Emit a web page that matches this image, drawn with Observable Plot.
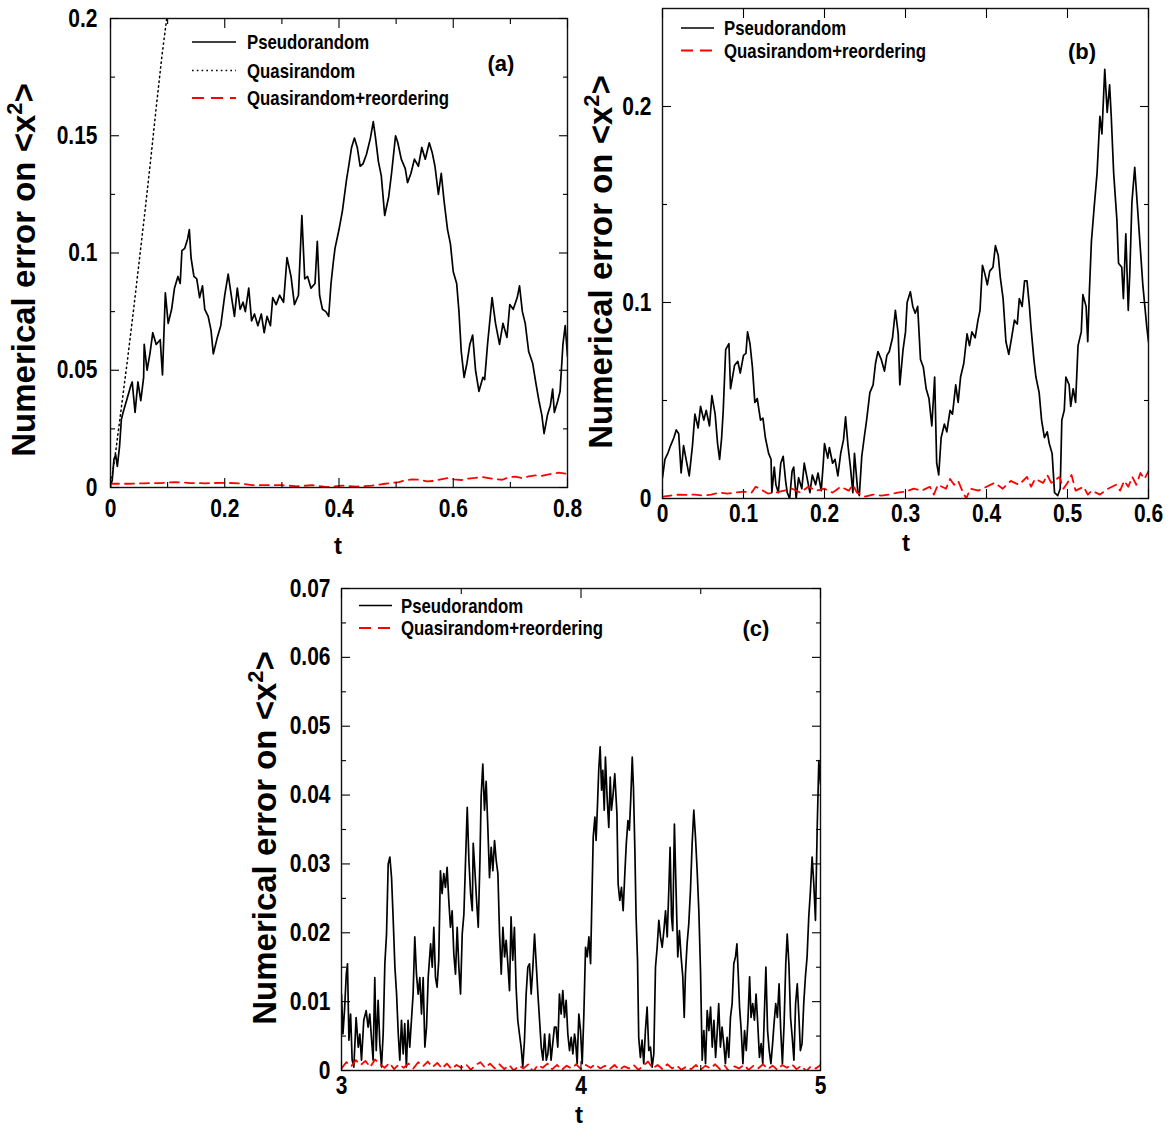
<!DOCTYPE html>
<html><head><meta charset="utf-8">
<script src="https://cdn.jsdelivr.net/npm/d3@7"></script>
<script src="https://cdn.jsdelivr.net/npm/@observablehq/plot@0.6"></script>
<style>
body{margin:0;background:#fff;}
#wrap{position:relative;width:1169px;height:1129px;background:#fff;}
.panel{position:absolute;}
</style></head><body><div id="wrap"></div>
<script>
// ---------------- DATA ----------------
const seriesNames = ["Pseudorandom", "Quasirandom", "Quasirandom+reordering"];

// Panel (a)
const aPseudo = [[0,0.001],[0.003,0.003],[0.006,0.012],[0.009,0.014],[0.012,0.009],[0.016,0.018],[0.019,0.029],[0.022,0.032],[0.028,0.037],[0.035,0.043],[0.038,0.045],[0.043,0.032],[0.048,0.045],[0.053,0.037],[0.058,0.047],[0.059,0.061],[0.064,0.050],[0.069,0.057],[0.074,0.066],[0.080,0.061],[0.087,0.063],[0.091,0.048],[0.096,0.083],[0.101,0.070],[0.107,0.076],[0.112,0.085],[0.118,0.090],[0.122,0.087],[0.125,0.101],[0.130,0.102],[0.135,0.106],[0.138,0.110],[0.141,0.098],[0.146,0.090],[0.151,0.089],[0.156,0.081],[0.161,0.086],[0.165,0.076],[0.171,0.073],[0.176,0.067],[0.180,0.057],[0.187,0.064],[0.193,0.069],[0.200,0.082],[0.206,0.091],[0.212,0.081],[0.217,0.073],[0.222,0.085],[0.227,0.076],[0.232,0.079],[0.236,0.075],[0.242,0.085],[0.247,0.071],[0.252,0.074],[0.258,0.069],[0.264,0.074],[0.269,0.066],[0.274,0.073],[0.280,0.069],[0.284,0.081],[0.290,0.078],[0.296,0.082],[0.303,0.079],[0.309,0.098],[0.316,0.090],[0.322,0.078],[0.329,0.082],[0.335,0.116],[0.340,0.089],[0.345,0.090],[0.351,0.085],[0.358,0.087],[0.362,0.105],[0.366,0.082],[0.371,0.076],[0.377,0.075],[0.382,0.073],[0.386,0.087],[0.390,0.096],[0.393,0.102],[0.400,0.110],[0.406,0.118],[0.413,0.131],[0.417,0.137],[0.422,0.145],[0.427,0.149],[0.432,0.145],[0.437,0.137],[0.442,0.138],[0.448,0.142],[0.455,0.149],[0.460,0.156],[0.464,0.149],[0.469,0.139],[0.474,0.133],[0.480,0.116],[0.487,0.124],[0.492,0.134],[0.499,0.150],[0.503,0.147],[0.509,0.140],[0.516,0.136],[0.520,0.130],[0.526,0.134],[0.532,0.140],[0.539,0.137],[0.545,0.145],[0.551,0.140],[0.558,0.147],[0.563,0.143],[0.568,0.137],[0.574,0.125],[0.579,0.134],[0.584,0.122],[0.590,0.110],[0.595,0.104],[0.600,0.092],[0.606,0.087],[0.610,0.075],[0.614,0.058],[0.619,0.047],[0.624,0.053],[0.629,0.061],[0.634,0.065],[0.639,0.050],[0.645,0.041],[0.652,0.047],[0.655,0.046],[0.660,0.061],[0.668,0.081],[0.674,0.070],[0.681,0.061],[0.687,0.070],[0.694,0.064],[0.699,0.078],[0.705,0.076],[0.712,0.081],[0.716,0.086],[0.721,0.075],[0.726,0.070],[0.732,0.058],[0.739,0.053],[0.745,0.044],[0.750,0.037],[0.755,0.031],[0.759,0.023],[0.765,0.031],[0.770,0.035],[0.774,0.042],[0.777,0.032],[0.783,0.037],[0.787,0.041],[0.792,0.061],[0.796,0.069],[0.800,0.056]];
const aQuasi = [[0,0],[0.01,0.017],[0.02,0.036],[0.03,0.055],[0.04,0.075],[0.05,0.096],[0.06,0.117],[0.07,0.139],[0.08,0.162],[0.09,0.184],[0.1,0.203]];
const aReorder = [[0,0.001],[0.003,0.0016],[0.032,0.0016],[0.061,0.0018],[0.087,0.0019],[0.114,0.0023],[0.140,0.0019],[0.166,0.0018],[0.196,0.0020],[0.225,0.0018],[0.248,0.0010],[0.274,0.0010],[0.300,0.0010],[0.327,0.0005],[0.353,0.0010],[0.379,0.0002],[0.405,0.0008],[0.432,0.0004],[0.458,0.0008],[0.481,0.0016],[0.505,0.0023],[0.515,0.0030],[0.528,0.0035],[0.541,0.0033],[0.554,0.0026],[0.566,0.0028],[0.578,0.0035],[0.590,0.0040],[0.601,0.0035],[0.614,0.0032],[0.627,0.0038],[0.638,0.0041],[0.650,0.0045],[0.662,0.0040],[0.674,0.0035],[0.686,0.0033],[0.697,0.0044],[0.709,0.0046],[0.720,0.0040],[0.732,0.0047],[0.744,0.0052],[0.755,0.0050],[0.767,0.0056],[0.784,0.0063],[0.799,0.0058]];
const aXTicks = [0, 0.2, 0.4, 0.6, 0.8];
const aXMinor = [0.1, 0.3, 0.5, 0.7];
const aYTicks = [0, 0.05, 0.1, 0.15, 0.2];
const aYMinor = [0.025, 0.075, 0.125, 0.175];

// Panel (b)
const bPseudo = [[0,0.0106],[0.003,0.020],[0.0065,0.023],[0.010,0.027],[0.014,0.031],[0.017,0.035],[0.020,0.033],[0.023,0.013],[0.026,0.027],[0.030,0.018],[0.033,0.0115],[0.037,0.027],[0.040,0.043],[0.044,0.036],[0.047,0.047],[0.051,0.040],[0.054,0.045],[0.058,0.037],[0.061,0.0525],[0.065,0.043],[0.068,0.028],[0.0705,0.020],[0.073,0.031],[0.075,0.045],[0.078,0.076],[0.082,0.079],[0.084,0.056],[0.089,0.068],[0.093,0.070],[0.096,0.064],[0.100,0.073],[0.103,0.074],[0.105,0.085],[0.108,0.079],[0.111,0.067],[0.114,0.049],[0.117,0.051],[0.121,0.040],[0.124,0.041],[0.127,0.031],[0.131,0.023],[0.134,0.020],[0.135,0.003],[0.138,0.016],[0.140,0.007],[0.143,0.003],[0.146,0.018],[0.149,0.0215],[0.152,0.009],[0.154,0.003],[0.157,0.0],[0.160,0.014],[0.162,0.016],[0.165,0.0],[0.168,0.0106],[0.172,0.005],[0.175,0.018],[0.178,0.0115],[0.182,0.003],[0.185,0.012],[0.189,0.007],[0.192,0.013],[0.196,0.004],[0.1985,0.018],[0.200,0.028],[0.204,0.0206],[0.206,0.026],[0.210,0.018],[0.213,0.020],[0.2165,0.0115],[0.220,0.023],[0.2235,0.030],[0.226,0.0416],[0.229,0.027],[0.232,0.016],[0.235,0.003],[0.237,0.023],[0.241,0.004],[0.243,0.0015],[0.246,0.0215],[0.249,0.031],[0.252,0.040],[0.256,0.054],[0.260,0.058],[0.263,0.069],[0.266,0.075],[0.270,0.071],[0.274,0.065],[0.277,0.073],[0.280,0.075],[0.284,0.082],[0.2875,0.096],[0.291,0.084],[0.293,0.058],[0.297,0.076],[0.300,0.085],[0.302,0.100],[0.306,0.1055],[0.309,0.098],[0.312,0.0945],[0.315,0.098],[0.3185,0.071],[0.322,0.067],[0.3255,0.056],[0.329,0.051],[0.3325,0.037],[0.336,0.062],[0.3385,0.018],[0.341,0.012],[0.344,0.031],[0.348,0.038],[0.351,0.034],[0.355,0.045],[0.358,0.043],[0.362,0.058],[0.365,0.049],[0.368,0.062],[0.372,0.069],[0.376,0.084],[0.379,0.078],[0.382,0.085],[0.386,0.082],[0.3895,0.091],[0.392,0.096],[0.395,0.119],[0.398,0.1146],[0.401,0.109],[0.404,0.116],[0.408,0.118],[0.411,0.129],[0.4145,0.124],[0.417,0.113],[0.4205,0.102],[0.424,0.080],[0.4275,0.0735],[0.431,0.082],[0.4345,0.091],[0.438,0.089],[0.4405,0.102],[0.444,0.098],[0.447,0.111],[0.450,0.111],[0.453,0.098],[0.455,0.087],[0.4585,0.071],[0.461,0.062],[0.465,0.054],[0.468,0.040],[0.4715,0.031],[0.475,0.034],[0.4775,0.028],[0.481,0.023],[0.484,0.003],[0.488,0.0015],[0.491,0.005],[0.493,0.040],[0.496,0.045],[0.498,0.062],[0.502,0.058],[0.504,0.047],[0.507,0.056],[0.510,0.049],[0.513,0.078],[0.517,0.085],[0.519,0.104],[0.523,0.098],[0.525,0.080],[0.527,0.1055],[0.5295,0.131],[0.533,0.149],[0.5365,0.166],[0.540,0.195],[0.5425,0.186],[0.546,0.219],[0.549,0.197],[0.552,0.211],[0.554,0.195],[0.557,0.166],[0.561,0.142],[0.563,0.120],[0.567,0.118],[0.569,0.102],[0.572,0.135],[0.575,0.096],[0.577,0.116],[0.5795,0.151],[0.583,0.169],[0.586,0.151],[0.590,0.127],[0.593,0.109],[0.5955,0.098],[0.598,0.087],[0.600,0.080]];
const bReorder = [[0,0.001],[0.01,0.0015],[0.02,0.002],[0.03,0.0018],[0.04,0.002],[0.05,0.0015],[0.06,0.002],[0.07,0.003],[0.08,0.0025],[0.09,0.003],[0.10,0.0035],[0.11,0.003],[0.115,0.006],[0.12,0.005],[0.13,0.0025],[0.14,0.003],[0.15,0.004],[0.16,0.005],[0.17,0.003],[0.18,0.006],[0.19,0.004],[0.20,0.005],[0.21,0.003],[0.22,0.006],[0.23,0.004],[0.235,0.007],[0.24,0.003],[0.25,0.001],[0.26,0.002],[0.27,0.0015],[0.28,0.002],[0.29,0.003],[0.30,0.0035],[0.31,0.005],[0.32,0.004],[0.33,0.006],[0.335,0.002],[0.34,0.007],[0.35,0.005],[0.355,0.010],[0.36,0.007],[0.365,0.009],[0.37,0.004],[0.375,0.000],[0.38,0.005],[0.39,0.004],[0.40,0.006],[0.41,0.008],[0.42,0.005],[0.43,0.009],[0.44,0.007],[0.45,0.011],[0.455,0.006],[0.46,0.010],[0.47,0.008],[0.475,0.012],[0.48,0.008],[0.49,0.011],[0.495,0.005],[0.50,0.008],[0.505,0.012],[0.51,0.004],[0.52,0.006],[0.525,0.002],[0.53,0.004],[0.54,0.002],[0.55,0.005],[0.56,0.007],[0.565,0.004],[0.57,0.009],[0.575,0.006],[0.58,0.011],[0.585,0.007],[0.59,0.013],[0.595,0.010],[0.60,0.014]];
const bXTicks = [0, 0.1, 0.2, 0.3, 0.4, 0.5, 0.6];
const bYTicks = [0, 0.1, 0.2];
const bYMinor = [0.05, 0.15];

// Panel (c)
const cPseudo = [[3.000,0.0111],[3.006,0.0053],[3.0125,0.0087],[3.020,0.0140],[3.025,0.0155],[3.031,0.0044],[3.038,0.0082],[3.0445,0.0015],[3.0515,0.0005],[3.061,0.0077],[3.070,0.0034],[3.0765,0.0053],[3.0835,0.0015],[3.093,0.0073],[3.103,0.0087],[3.111,0.0063],[3.118,0.0082],[3.125,0.0048],[3.132,0.0015],[3.139,0.0135],[3.145,0.0029],[3.153,0.0102],[3.160,0.0039],[3.167,0.0005],[3.174,0.0053],[3.181,0.0155],[3.188,0.0198],[3.195,0.0300],[3.202,0.0310],[3.209,0.0280],[3.216,0.0218],[3.223,0.0150],[3.230,0.0111],[3.237,0.0053],[3.2435,0.0015],[3.2505,0.0073],[3.2575,0.0024],[3.264,0.0068],[3.271,0.0005],[3.278,0.0073],[3.285,0.0034],[3.292,0.0073],[3.299,0.0111],[3.306,0.0194],[3.313,0.0140],[3.320,0.0111],[3.327,0.0135],[3.334,0.0082],[3.341,0.0135],[3.348,0.0034],[3.355,0.0063],[3.362,0.0135],[3.372,0.0184],[3.379,0.0150],[3.3855,0.0208],[3.3925,0.0135],[3.399,0.0121],[3.406,0.0160],[3.413,0.0290],[3.420,0.0257],[3.427,0.0286],[3.434,0.0266],[3.441,0.0295],[3.448,0.0247],[3.455,0.0208],[3.462,0.0232],[3.469,0.0169],[3.476,0.0140],[3.483,0.0208],[3.490,0.0150],[3.497,0.0111],[3.504,0.0198],[3.511,0.0227],[3.518,0.0305],[3.525,0.0382],[3.532,0.0305],[3.539,0.0257],[3.546,0.0232],[3.550,0.0330],[3.557,0.0290],[3.564,0.0247],[3.571,0.0208],[3.578,0.0305],[3.583,0.0397],[3.590,0.0445],[3.597,0.0378],[3.604,0.0420],[3.611,0.0353],[3.618,0.0280],[3.625,0.0324],[3.632,0.0290],[3.639,0.0334],[3.646,0.0305],[3.653,0.0286],[3.660,0.0198],[3.667,0.0140],[3.674,0.0208],[3.681,0.0165],[3.6875,0.0189],[3.6945,0.0155],[3.7015,0.0116],[3.708,0.0223],[3.715,0.0160],[3.722,0.0208],[3.729,0.0121],[3.736,0.0073],[3.743,0.0053],[3.750,0.0034],[3.757,0.0005],[3.764,0.0044],[3.771,0.0111],[3.778,0.0150],[3.785,0.0155],[3.792,0.0111],[3.799,0.0150],[3.806,0.0198],[3.813,0.0155],[3.820,0.0111],[3.827,0.0073],[3.834,0.0034],[3.841,0.0015],[3.848,0.0053],[3.855,0.0015],[3.8615,0.0024],[3.8685,0.0053],[3.875,0.0015],[3.882,0.0039],[3.889,0.0063],[3.896,0.0063],[3.903,0.0034],[3.910,0.0111],[3.917,0.0082],[3.924,0.0116],[3.931,0.0077],[3.938,0.0102],[3.945,0.0053],[3.952,0.0029],[3.959,0.0048],[3.966,0.0024],[3.973,0.0053],[3.977,0.0044],[3.984,0.0010],[3.991,0.0082],[3.998,0.0058],[4.005,0.0010],[4.012,0.0082],[4.019,0.0179],[4.026,0.0165],[4.033,0.0194],[4.040,0.0155],[4.044,0.0223],[4.051,0.0339],[4.058,0.0368],[4.063,0.0334],[4.069,0.0387],[4.074,0.0436],[4.080,0.0470],[4.086,0.0407],[4.091,0.0436],[4.097,0.0378],[4.102,0.0455],[4.109,0.0397],[4.116,0.0353],[4.122,0.0426],[4.127,0.0378],[4.133,0.0397],[4.141,0.0431],[4.150,0.0373],[4.155,0.0271],[4.162,0.0247],[4.169,0.0266],[4.176,0.0232],[4.183,0.0286],[4.189,0.0329],[4.196,0.0363],[4.202,0.0349],[4.208,0.0397],[4.214,0.0455],[4.219,0.0411],[4.225,0.0319],[4.230,0.0223],[4.236,0.0160],[4.241,0.0048],[4.248,0.0019],[4.255,0.0044],[4.262,0.0010],[4.269,0.0058],[4.276,0.0092],[4.283,0.0029],[4.290,0.0034],[4.297,0.0005],[4.304,0.0024],[4.311,0.0150],[4.318,0.0179],[4.325,0.0218],[4.332,0.0194],[4.339,0.0179],[4.346,0.0203],[4.353,0.0232],[4.360,0.0194],[4.367,0.0266],[4.372,0.0324],[4.378,0.0223],[4.383,0.0203],[4.390,0.0358],[4.397,0.0261],[4.404,0.0165],[4.411,0.0203],[4.418,0.0165],[4.425,0.0136],[4.431,0.0077],[4.436,0.0140],[4.443,0.0184],[4.450,0.0213],[4.457,0.0261],[4.464,0.0329],[4.471,0.0378],[4.478,0.0339],[4.485,0.0290],[4.492,0.0232],[4.499,0.0145],[4.506,0.0015],[4.513,0.0058],[4.520,0.0010],[4.527,0.0087],[4.534,0.0058],[4.541,0.0092],[4.548,0.0034],[4.555,0.0073],[4.562,0.0019],[4.569,0.0058],[4.575,0.0097],[4.582,0.0034],[4.589,0.0063],[4.596,0.0039],[4.603,0.0010],[4.610,0.0048],[4.617,0.0019],[4.624,0.0077],[4.631,0.0097],[4.638,0.0155],[4.645,0.0165],[4.651,0.0184],[4.656,0.0145],[4.662,0.0092],[4.669,0.0058],[4.676,0.0010],[4.683,0.0058],[4.690,0.0029],[4.697,0.0073],[4.704,0.0136],[4.710,0.0077],[4.717,0.0097],[4.724,0.0073],[4.731,0.0111],[4.738,0.0068],[4.745,0.0019],[4.752,0.0039],[4.759,0.0010],[4.766,0.0087],[4.772,0.0150],[4.779,0.0058],[4.786,0.0029],[4.793,0.0010],[4.800,0.0039],[4.806,0.0068],[4.813,0.0097],[4.820,0.0077],[4.827,0.0126],[4.834,0.0058],[4.841,0.0010],[4.848,0.0068],[4.855,0.0155],[4.861,0.0198],[4.868,0.0155],[4.875,0.0077],[4.882,0.0048],[4.889,0.0015],[4.896,0.0097],[4.903,0.0126],[4.910,0.0077],[4.916,0.0029],[4.923,0.0039],[4.930,0.0097],[4.937,0.0136],[4.944,0.0165],[4.951,0.0223],[4.958,0.0261],[4.965,0.0310],[4.972,0.0271],[4.979,0.0218],[4.986,0.0349],[4.993,0.0450],[5.000,0.0416]];
const cReorder = [[3.00,0.0003],[3.02,0.0012],[3.04,0.0006],[3.06,0.0015],[3.08,0.0008],[3.10,0.0014],[3.12,0.0005],[3.14,0.0016],[3.16,0.0009],[3.18,0.0004],[3.20,0.0011],[3.22,0.0002],[3.24,0.0009],[3.26,0.0004],[3.28,0.0010],[3.30,0.0003],[3.32,0.0012],[3.34,0.0006],[3.36,0.0013],[3.38,0.0005],[3.40,0.0011],[3.42,0.0003],[3.44,0.0010],[3.46,0.0002],[3.48,0.0008],[3.50,0.0004],[3.52,0.0009],[3.54,0.0001],[3.56,0.0008],[3.58,0.0012],[3.60,0.0004],[3.62,0.0010],[3.64,0.0003],[3.66,0.0009],[3.68,0.0002],[3.70,0.0008],[3.72,0.0000],[3.74,0.0007],[3.76,0.0003],[3.78,0.0009],[3.80,-0.0002],[3.82,0.0008],[3.84,0.0004],[3.86,0.0010],[3.88,0.0002],[3.90,0.0008],[3.92,0.0001],[3.94,0.0007],[3.96,0.0003],[3.98,0.0009],[4.00,0.0002],[4.02,0.0008],[4.04,0.0004],[4.06,0.0009],[4.08,0.0003],[4.10,0.0007],[4.12,0.0002],[4.14,0.0008],[4.16,0.0001],[4.18,0.0006],[4.20,0.0003],[4.22,0.0008],[4.24,0.0001],[4.26,0.0007],[4.28,0.0013],[4.30,0.0003],[4.32,0.0008],[4.34,0.0002],[4.36,0.0009],[4.38,0.0003],[4.40,0.0007],[4.42,0.0001],[4.44,0.0006],[4.46,0.0002],[4.48,0.0008],[4.50,0.0001],[4.52,0.0007],[4.54,0.0003],[4.56,0.0009],[4.58,0.0002],[4.60,0.0007],[4.62,-0.0002],[4.64,0.0006],[4.66,0.0003],[4.68,0.0008],[4.70,0.0001],[4.72,0.0007],[4.74,0.0003],[4.76,0.0009],[4.78,0.0002],[4.80,0.0007],[4.82,0.0001],[4.84,0.0008],[4.86,0.0004],[4.88,0.0009],[4.90,0.0002],[4.92,0.0007],[4.94,-0.0001],[4.96,0.0006],[4.98,0.0003],[5.00,0.0008]];
const cXTicks = [3, 4, 5];
const cXMinor = [3.5, 4.5];
const cYTicks = [0, 0.01, 0.02, 0.03, 0.04, 0.05, 0.06, 0.07];
const cYMinor = [0.005, 0.015, 0.025, 0.035, 0.045, 0.055, 0.065];

// ---------------- STYLE ----------------
function hasFont(name){
  const c = document.createElement("canvas").getContext("2d");
  const s = "Pseudorandom 0.15 Quasirandom+reordering";
  c.font = "bold 40px monospace"; const w0 = c.measureText(s).width;
  c.font = `bold 40px "${name}", monospace`; const w1 = c.measureText(s).width;
  return Math.abs(w0 - w1) > 0.5;
}
const narrowOK = hasFont("Liberation Sans Narrow");
const NARROW = narrowOK ? '"Liberation Sans Narrow", "Liberation Sans", Arial, sans-serif' : '"Liberation Sans", Arial, sans-serif';
const WIDE = '"Liberation Sans", Arial, sans-serif';
const SQUEEZE = narrowOK ? 1 : 0.84;   // horizontal condensing when no narrow face exists
const TICK_FS = 25;
const LEG_FS = 20;
const RED = "#ff0000";
const DASH = "9,6";
const toRows = arr => arr.map(([t, v]) => ({t, v}));

const styles = {
  Pseudorandom: {stroke: "#000", strokeWidth: 1.7, dash: null, legDash: null},
  Quasirandom: {stroke: "#000", strokeWidth: 1.5, dash: "1.4,3.4", legDash: "1.6,3.2"},
  "Quasirandom+reordering": {stroke: RED, strokeWidth: 1.8, dash: DASH, legDash: "12,7"}
};

function panel(cfg){
  const marks = [];
  for (const s of cfg.series) {
    const st = styles[s.name];
    marks.push(Plot.line(toRows(s.data), {x: "t", y: "v", stroke: st.stroke, strokeWidth: st.strokeWidth, strokeDasharray: st.dash, clip: true}));
  }
  marks.push(Plot.frame({stroke: "#111", strokeWidth: 1.4}));
  const tk = (ticks, anchor, size) => {
    const o = {anchor, tickSize: size, fill: "none", label: null, strokeWidth: 1.1};
    if (anchor === "left") o.dx = size; if (anchor === "right") o.dx = -size;
    if (anchor === "bottom") o.dy = -size; if (anchor === "top") o.dy = size;
    return (anchor === "left" || anchor === "right") ? Plot.axisY(ticks, o) : Plot.axisX(ticks, o);
  };
  for (const a of ["left", "right"]) {
    marks.push(tk(cfg.yTicks, a, 9));
    if (cfg.yMinor) marks.push(tk(cfg.yMinor, a, 5));
  }
  for (const a of ["bottom", "top"]) {
    marks.push(tk(cfg.xTicks, a, 9));
    if (cfg.xMinor) marks.push(tk(cfg.xMinor, a, 5));
  }
  marks.push(Plot.axisY(cfg.yTicks, {anchor: "left", tickSize: 0, tickPadding: cfg.yPad, tickFormat: d => String(d), fontSize: TICK_FS, fontWeight: "bold", label: null}));
  marks.push(Plot.axisX(cfg.xTicks, {anchor: "bottom", tickSize: 0, tickPadding: cfg.xPad, tickFormat: d => String(d), fontSize: TICK_FS, fontWeight: "bold", label: null}));

  const svg = Plot.plot({
    width: cfg.width, height: cfg.height,
    marginLeft: cfg.m[0], marginRight: cfg.m[1], marginTop: cfg.m[2], marginBottom: cfg.m[3],
    x: {domain: cfg.xDomain}, y: {domain: cfg.yDomain},
    style: {fontFamily: NARROW, fontWeight: "bold", color: "#000", background: "transparent", overflow: "visible"},
    marks
  });
  const g = d3.select(svg);
  // condense tick labels horizontally (narrow face look)
  g.selectAll('g[aria-label$="tick label"] text').each(function(){
    const t = this.getAttribute("transform") || "";
    this.setAttribute("transform", `${t} scale(${SQUEEZE},1)`);
  });
  // y label
  const yl = g.append("text")
    .attr("transform", `translate(${cfg.yLabel[0]},${cfg.yLabel[1]}) rotate(-90)`)
    .attr("text-anchor", "middle")
    .style("font-family", WIDE).style("font-size", "33px").style("font-weight", "bold").attr("fill", "#000");
  yl.append("tspan").text("Numerical error on <x");
  yl.append("tspan").attr("dy", -13).style("font-size", "22px").text("2");
  yl.append("tspan").attr("dy", 13).text(">");
  // x label
  g.append("text").attr("x", cfg.xLabel[0]).attr("y", cfg.xLabel[1]).attr("text-anchor", "middle")
    .style("font-family", WIDE).style("font-size", "24px").style("font-weight", "bold").attr("fill", "#000").text("t");
  // legend
  cfg.series.forEach((s, i) => {
    const st = styles[s.name];
    const y = cfg.leg.ys[i];
    g.append("line").attr("x1", cfg.leg.x0).attr("x2", cfg.leg.x1).attr("y1", y).attr("y2", y)
      .attr("stroke", st.stroke).attr("stroke-width", st.strokeWidth).attr("stroke-dasharray", st.legDash);
    g.append("text").attr("transform", `translate(${cfg.leg.xt},${y}) scale(${SQUEEZE},1)`).attr("dy", "0.36em").attr("text-anchor", "start")
      .style("font-family", NARROW).style("font-size", LEG_FS + "px").style("font-weight", "bold").attr("fill", "#000").text(s.name);
  });
  // panel tag
  g.append("text").attr("x", cfg.tag[0]).attr("y", cfg.tag[1]).attr("dy", "0.36em").attr("text-anchor", "middle")
    .style("font-family", WIDE).style("font-size", "22px").style("font-weight", "bold").attr("fill", "#000").text(cfg.tagText);

  const div = document.createElement("div");
  div.className = "panel";
  div.style.left = cfg.left + "px"; div.style.top = cfg.top + "px";
  div.appendChild(svg);
  document.getElementById("wrap").appendChild(div);
}

panel({
  left: 0, top: 0, width: 580, height: 560, m: [110, 13, 18, 73],
  xDomain: [0, 0.8], yDomain: [0, 0.2],
  xTicks: aXTicks, xMinor: aXMinor, yTicks: aYTicks, yMinor: aYMinor,
  yPad: 13, xPad: 12,
  series: [{name: seriesNames[0], data: aPseudo}, {name: seriesNames[1], data: aQuasi}, {name: seriesNames[2], data: aReorder}],
  yLabel: [35, 270], xLabel: [338, 554],
  leg: {x0: 192, x1: 236, xt: 247, ys: [42, 70.5, 98]},
  tag: [501, 63], tagText: "(a)"
});
panel({
  left: 580, top: 0, width: 589, height: 560, m: [82, 21, 8, 62],
  xDomain: [0, 0.6], yDomain: [0, 0.25],
  xTicks: bXTicks, xMinor: null, yTicks: bYTicks, yMinor: bYMinor,
  yPad: 11, xPad: 6,
  series: [{name: seriesNames[0], data: bPseudo}, {name: seriesNames[2], data: bReorder}],
  yLabel: [32, 262], xLabel: [326, 551],
  leg: {x0: 101, x1: 134, xt: 144, ys: [28, 50.5]},
  tag: [502, 51.5], tagText: "(b)"
});
panel({
  left: 240, top: 570, width: 600, height: 559, m: [101, 20, 18, 59],
  xDomain: [3, 5], yDomain: [0, 0.07],
  xTicks: cXTicks, xMinor: cXMinor, yTicks: cYTicks, yMinor: cYMinor,
  yPad: 11, xPad: 6,
  series: [{name: seriesNames[0], data: cPseudo}, {name: seriesNames[2], data: cReorder}],
  yLabel: [36, 268], xLabel: [339, 553],
  leg: {x0: 119, x1: 152, xt: 161, ys: [35.5, 58]},
  tag: [516, 58.5], tagText: "(c)"
});
</script></body></html>
